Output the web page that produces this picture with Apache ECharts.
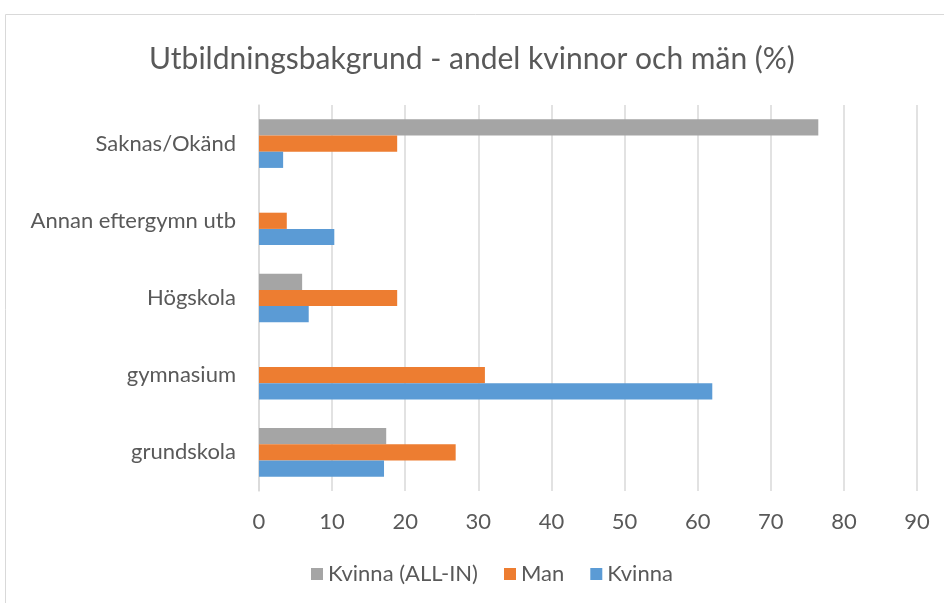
<!DOCTYPE html>
<html>
<head>
<meta charset="utf-8">
<script src="https://cdn.jsdelivr.net/npm/echarts@6/dist/echarts.min.js"></script>
<style>
  html, body { margin: 0; padding: 0; background: #fff; }
  #chart { width: 944px; height: 603px; }
</style>
</head>
<body>
<div id="chart"></div>
<script>
// data
var categories = ['grundskola', 'gymnasium', 'Högskola', 'Annan eftergymn utb', 'Saknas/Okänd'];
var kvinna = [17.1, 62.0, 6.8, 10.3, 3.3];
var man = [26.9, 30.9, 18.9, 3.8, 18.9];
var kvinnaAllIn = [17.4, 0, 5.9, 0, 76.5];
var xTicks = [0, 90, 10];

window.onload = function () {
    var myChart = echarts.init(document.getElementById('chart'));
    var font = 'Lato, "Open Sans", sans-serif';
    var option = {
        animation: false,
        textStyle: { fontFamily: font },
        graphic: [{
            type: 'rect',
            shape: { x: 5.5, y: 14.5, width: 960, height: 620 },
            style: { fill: 'none', stroke: '#d9d9d9', lineWidth: 1 }
        }],
        title: {
            text: 'Utbildningsbakgrund - andel kvinnor och män (%)',
            left: 'center',
            top: 39,
            textStyle: { fontSize: 30, fontWeight: 'normal', color: '#595959', fontFamily: font }
        },
        legend: {
            data: ['Kvinna (ALL-IN)', 'Man', 'Kvinna'],
            bottom: 13,
            left: 306,
            itemWidth: 12,
            itemHeight: 12,
            itemGap: 26,
            icon: 'rect',
            textStyle: { fontSize: 22, color: '#595959', fontFamily: font }
        },
        grid: {
            left: 259,
            right: 27,
            top: 105,
            bottom: 112
        },
        xAxis: {
            type: 'value',
            min: xTicks[0],
            max: xTicks[1],
            interval: xTicks[2],
            axisLine: { show: false },
            axisTick: { show: false },
            splitLine: { lineStyle: { color: '#d9d9d9', width: 1.5 } },
            axisLabel: { fontSize: 22, color: '#595959', margin: 20, fontFamily: font }
        },
        yAxis: {
            type: 'category',
            data: categories,
            axisLine: { show: true, lineStyle: { color: '#d9d9d9', width: 1.5 } },
            axisTick: { show: false },
            axisLabel: { fontSize: 22, color: '#595959', margin: 23, fontFamily: font }
        },
        series: [
            { name: 'Kvinna (ALL-IN)', type: 'bar', data: kvinnaAllIn, itemStyle: { color: '#A5A5A5' }, barGap: '0%', barCategoryGap: '37%' },
            { name: 'Man', type: 'bar', data: man, itemStyle: { color: '#ED7D31' }, barGap: '0%', barCategoryGap: '37%' },
            { name: 'Kvinna', type: 'bar', data: kvinna, itemStyle: { color: '#5B9BD5' }, barGap: '0%', barCategoryGap: '37%' }
        ]
    };
    myChart.setOption(option);
};
</script>
</body>
</html>
